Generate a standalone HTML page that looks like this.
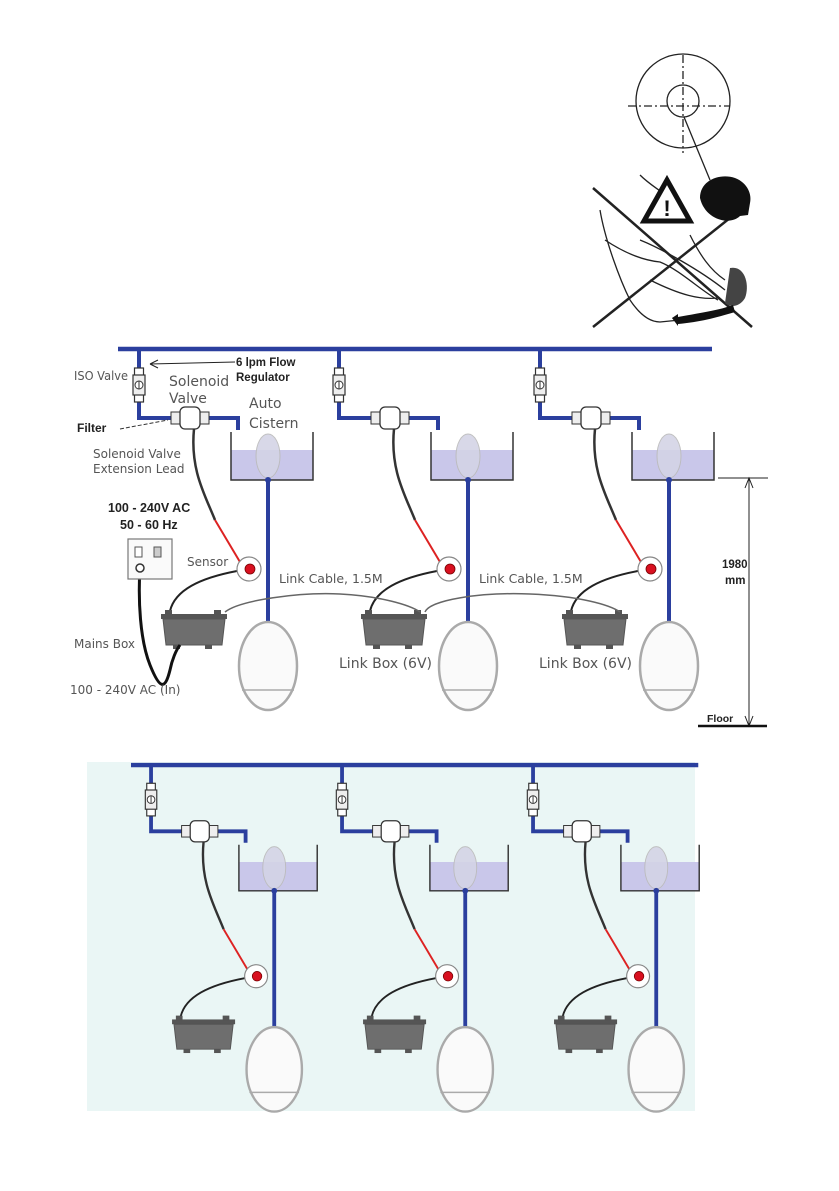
<!DOCTYPE html>
<html><head><meta charset="utf-8"><style>
html,body{margin:0;padding:0;background:#fff}
svg{display:block}
text{font-family:"DejaVu Sans","Liberation Sans",sans-serif;fill:#555}
.b{font-family:"Liberation Sans",sans-serif;font-weight:bold;fill:#222}
</style></head><body>
<svg width="839" height="1191" viewBox="0 0 839 1191" xmlns="http://www.w3.org/2000/svg">
<defs>
<g id="unit">
  <path d="M139 349 V418 H238 V430" fill="none" stroke="#2b3f9e" stroke-width="4"/>
  <rect x="134.5" y="368" width="9" height="34" fill="#fff" stroke="#333" stroke-width="1.2"/>
  <rect x="133" y="375" width="12" height="20" fill="#eee" stroke="#333" stroke-width="1.2"/>
  <circle cx="139" cy="385" r="4" fill="#fff" stroke="#333"/><line x1="139" y1="381" x2="139" y2="389" stroke="#333"/>
  <rect x="171" y="412" width="10" height="12" fill="#eee" stroke="#333"/>
  <rect x="199" y="412" width="10" height="12" fill="#eee" stroke="#333"/>
  <rect x="180" y="407" width="20" height="22" rx="5" fill="#fff" stroke="#333" stroke-width="1.3"/>
  <path d="M194 429 C190 470 205 495 215 520" fill="none" stroke="#333" stroke-width="2.5"/>
  <path d="M215 520 L240 562" fill="none" stroke="#d22" stroke-width="2"/>
  <rect x="231" y="450" width="82" height="30" fill="#c9c7ea"/>
  <ellipse cx="268" cy="456" rx="12" ry="22" fill="#d4d4e6" stroke="#bbb" opacity="0.9"/>
  <path d="M231 432 V480 H313 V432" fill="none" stroke="#333" stroke-width="1.5"/>
  <line x1="268" y1="480" x2="268" y2="622" stroke="#2b3f9e" stroke-width="4"/>
  <circle cx="268" cy="480" r="3" fill="#2b3f9e"/>
  <ellipse cx="268" cy="666" rx="29" ry="44" fill="#fafafa" stroke="#aaa" stroke-width="2.5"/>
  <line x1="242" y1="690" x2="294" y2="690" stroke="#aaa" stroke-width="1.5"/>
  <path d="M237 571 C200 578 175 590 170 611" fill="none" stroke="#222" stroke-width="2"/>
  <circle cx="249" cy="569" r="12" fill="#fff" stroke="#888" stroke-width="1.2"/>
  <circle cx="250" cy="569" r="5" fill="#d81020" stroke="#700" stroke-width="0.8"/>
  <rect x="161" y="614" width="66" height="5" fill="#555"/>
  <path d="M163 619 H225 L222 645 H166 Z" fill="#6e6e6e" stroke="#555"/>
  <rect x="165" y="610" width="7" height="5" fill="#555"/><rect x="214" y="610" width="7" height="5" fill="#555"/>
  <rect x="173" y="645" width="7" height="4" fill="#555"/><rect x="205" y="645" width="7" height="4" fill="#555"/>
</g>
</defs>

<!-- warning figure -->
<g fill="none" stroke="#222" stroke-width="1.3">
  <circle cx="683" cy="101" r="47"/>
  <circle cx="683" cy="101" r="16"/>
  <line x1="683" y1="55" x2="683" y2="153" stroke-dasharray="8 3 2 3"/>
  <line x1="628" y1="106" x2="730" y2="106" stroke-dasharray="8 3 2 3"/>
  <line x1="684" y1="117" x2="710" y2="180"/>
  <line x1="593" y1="188" x2="752" y2="327" stroke-width="2.5"/>
  <line x1="593" y1="327" x2="740" y2="210" stroke-width="2.5"/>
  <path d="M640 175 C650 185 660 190 665 195"/>
  <path d="M600 210 C605 240 620 280 630 300 C640 315 650 322 660 322 L700 318 M605 240 C620 250 640 260 660 262 C680 270 700 290 718 300 M640 240 C660 248 700 270 725 290 M650 280 C680 295 700 300 718 298"/>
  <path d="M690 235 C700 255 710 270 725 280"/>
</g>
<path d="M644 221 L667 180 L690 221 Z" fill="#fff" stroke="#111" stroke-width="5"/>
<text x="667" y="216" text-anchor="middle" class="b" style="font-size:22px;fill:#111">!</text>
<path d="M700 198 C700 180 720 173 735 178 C748 183 752 195 750 203 L748 215 L740 216 C730 226 705 220 700 198 Z" fill="#111"/>
<path d="M730 268 C745 265 750 285 745 298 C740 307 730 308 725 303 Z" fill="#444"/>
<path d="M672 318 C700 313 720 310 733 305 L735 312 C715 318 700 322 678 324 Z" fill="#111"/>
<path d="M672 318 L678 314 L678 326 Z" fill="#111"/>

<!-- top diagram -->
<line x1="118" y1="349" x2="712" y2="349" stroke="#2b3f9e" stroke-width="4.5"/>
<use href="#unit"/>
<use href="#unit" transform="translate(200,0)"/>
<use href="#unit" transform="translate(401,0)"/>
<path d="M225 612 C240 600 300 592 340 594 C380 596 410 605 420 612" fill="none" stroke="#666" stroke-width="1.5"/>
<path d="M425 612 C430 600 480 592 530 594 C580 596 610 605 620 612" fill="none" stroke="#666" stroke-width="1.5"/>
<path d="M140 568 C138 600 140 640 150 665 C160 690 165 690 170 670 C172 660 176 650 180 645" fill="none" stroke="#111" stroke-width="3"/>
<rect x="128" y="539" width="44" height="40" fill="#fafafa" stroke="#777" stroke-width="1.2"/>
<rect x="135" y="547" width="7" height="10" fill="#fff" stroke="#555"/>
<rect x="154" y="547" width="7" height="10" fill="#ccc" stroke="#555"/>
<circle cx="140" cy="568" r="4" fill="#fff" stroke="#333" stroke-width="1.5"/>

<text x="74" y="380" style="font-size:12.5px" textLength="54" lengthAdjust="spacingAndGlyphs">ISO Valve</text>
<text x="169" y="386" style="font-size:14px">Solenoid</text>
<text x="169" y="403" style="font-size:14px">Valve</text>
<text x="249" y="408" style="font-size:14px">Auto</text>
<text x="249" y="428" style="font-size:14px">Cistern</text>
<text x="236" y="366" class="b" style="font-size:11.5px">6 lpm Flow</text>
<text x="236" y="381" class="b" style="font-size:11.5px">Regulator</text>
<line x1="235" y1="362" x2="150" y2="364" stroke="#222" stroke-width="1"/>
<path d="M150 364 L158 360 M150 364 L158 368" stroke="#222"/>
<text x="77" y="432" class="b" style="font-size:12px">Filter</text>
<line x1="120" y1="429" x2="168" y2="420" stroke="#333" stroke-dasharray="4 2"/>
<text x="93" y="458" style="font-size:12px">Solenoid Valve</text>
<text x="93" y="473" style="font-size:12px">Extension Lead</text>
<text x="108" y="512" class="b" style="font-size:12.5px">100 - 240V AC</text>
<text x="120" y="529" class="b" style="font-size:12.5px">50 - 60 Hz</text>
<text x="187" y="566" style="font-size:12px">Sensor</text>
<text x="279" y="583" style="font-size:12.5px">Link Cable, 1.5M</text>
<text x="479" y="583" style="font-size:12.5px">Link Cable, 1.5M</text>
<text x="74" y="648" style="font-size:12px">Mains Box</text>
<text x="339" y="668" style="font-size:14px">Link Box (6V)</text>
<text x="539" y="668" style="font-size:14px">Link Box (6V)</text>
<text x="70" y="694" style="font-size:12px">100 - 240V AC (In)</text>

<!-- dimension -->
<line x1="718" y1="478" x2="768" y2="478" stroke="#222"/>
<line x1="749" y1="478" x2="749" y2="726" stroke="#222"/>
<path d="M745 488 L749 478 L753 488 M745 716 L749 726 L753 716" fill="none" stroke="#222"/>
<line x1="698" y1="726" x2="767" y2="726" stroke="#111" stroke-width="2.5"/>
<text x="707" y="722" class="b" style="font-size:10.5px">Floor</text>
<text x="722" y="568" class="b" style="font-size:11.5px">1980</text>
<text x="725" y="584" class="b" style="font-size:11.5px">mm</text>

<!-- bottom panel -->
<rect x="87" y="762" width="608" height="349" fill="#eaf6f5"/>
<g transform="translate(18.3,430) scale(0.955,0.96)">
  <line x1="118" y1="349" x2="712" y2="349" stroke="#2b3f9e" stroke-width="4.5"/>
  <use href="#unit"/>
  <use href="#unit" transform="translate(200,0)"/>
  <use href="#unit" transform="translate(400,0)"/>
</g>
</svg>
</body></html>
